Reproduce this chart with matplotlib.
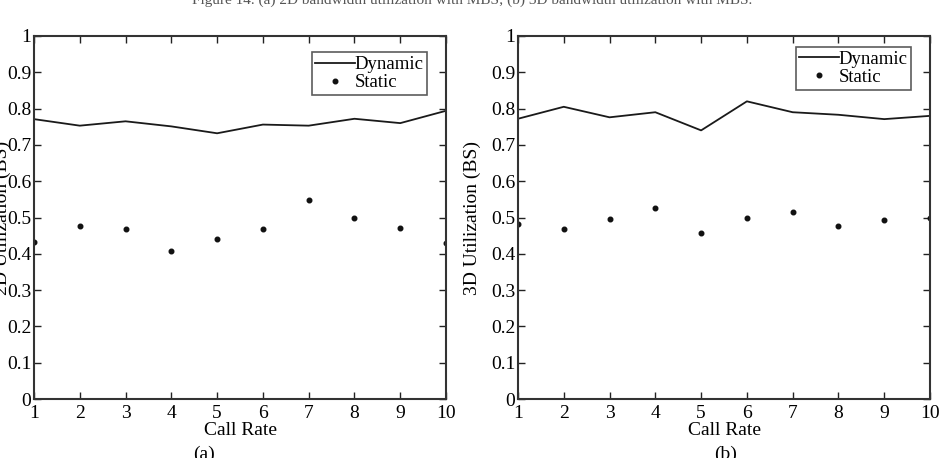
import matplotlib
matplotlib.use("Agg")
import matplotlib.pyplot as plt

plt.rcParams['font.family'] = ['Liberation Serif', 'DejaVu Serif']

call_rate = [1, 2, 3, 4, 5, 6, 7, 8, 9, 10]

dyn_2d = [0.771, 0.753, 0.765, 0.751, 0.732, 0.756, 0.753, 0.772, 0.760, 0.794]
static_2d = [0.432, 0.477, 0.469, 0.408, 0.441, 0.468, 0.547, 0.500, 0.472, 0.429]

dyn_3d = [0.772, 0.805, 0.776, 0.790, 0.740, 0.820, 0.790, 0.783, 0.771, 0.780]
static_3d = [0.481, 0.469, 0.496, 0.527, 0.456, 0.500, 0.515, 0.477, 0.492, 0.500]

y_ticks = [0, 0.1, 0.2, 0.3, 0.4, 0.5, 0.6, 0.7, 0.8, 0.9, 1]
y_tick_labels = ['0', '0.1', '0.2', '0.3', '0.4', '0.5', '0.6', '0.7', '0.8', '0.9', '1']

fig = plt.figure(figsize=(9.44, 4.58), dpi=100)
ax1 = fig.add_axes([0.036, 0.1288, 0.4365, 0.7926])
ax2 = fig.add_axes([0.5487, 0.1288, 0.4365, 0.7926])

def draw_panel(ax, dyn, stat, ylabel, label_x, legend_anchor):
    ax.plot(call_rate, dyn, color='#1a1a1a', linewidth=1.3, label='Dynamic')
    ax.plot(call_rate, stat, linestyle='none', marker='o', markersize=3.3,
            color='#111111', label='Static')
    ax.set_xlim(1, 10)
    ax.set_ylim(0, 1)
    ax.set_xticks(call_rate)
    ax.set_yticks(y_ticks)
    ax.set_yticklabels(y_tick_labels)
    ax.tick_params(direction='in', length=5, width=1, top=True, right=True,
                   labelsize=14, colors='#222222')
    ax.tick_params(axis='x', labelcolor='black', pad=4)
    ax.tick_params(axis='y', labelcolor='black', pad=2)
    for s in ax.spines.values():
        s.set_linewidth(1.5)
        s.set_color('#333333')
    ax.set_xlabel('Call Rate', fontsize=14, labelpad=0)
    ax.set_ylabel(ylabel, fontsize=14)
    ax.yaxis.set_label_coords(label_x, 0.5)
    leg = ax.legend(loc='upper right', bbox_to_anchor=legend_anchor, fontsize=13.5,
                    frameon=True, fancybox=False, handlelength=2.1, handletextpad=0,
                    borderpad=0.2, labelspacing=0.05, borderaxespad=0)
    leg.get_frame().set_edgecolor('#333333')
    leg.get_frame().set_linewidth(1.2)

draw_panel(ax1, dyn_2d, static_2d, '2D Utilization (BS)', -0.055, (0.955, 0.955))
draw_panel(ax2, dyn_3d, static_3d, '3D Utilization (BS)', -0.09, (0.955, 0.97))

fig.text(0.216, -0.012, '(a)', fontsize=14, ha='center', va='bottom')
fig.text(0.769, -0.012, '(b)', fontsize=14, ha='center', va='bottom')
fig.text(0.5, 1.0, 'Figure 14. (a) 2D bandwidth utilization with MBS; (b) 3D bandwidth utilization with MBS.',
         fontsize=11, ha='center', va='center', color='#555555')

fig.savefig('out.png', dpi=100)
